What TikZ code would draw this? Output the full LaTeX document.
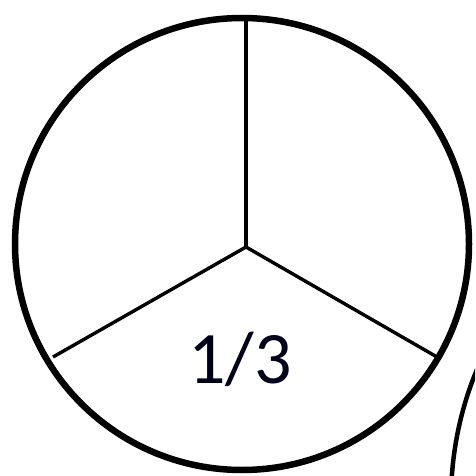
\documentclass[tikz,border=0pt]{standalone}
\usepackage{fontspec}
\setmainfont{Carlito}
\begin{document}
\begin{tikzpicture}[x=1pt,y=-1pt,
  rim/.style={line width=6.5pt},
  spoke/.style={line width=3.4pt},
  lbl/.style={font=\fontsize{74}{80}\selectfont, text=black!90!blue, inner sep=0pt}]
\useasboundingbox (0,0) rectangle (475,476);
\clip (0,0) rectangle (475,476);
\coordinate (c) at (246,247);
\coordinate (top) at (246,18);
\coordinate (ll) at (53,357);
\coordinate (lr) at (437,357);
\draw[rim] (242,244) ellipse [x radius=227, y radius=226];
\draw[spoke] (c) -- (top);
\draw[spoke] (c) -- (ll);
\draw[spoke] (c) -- (lr);
\node[lbl] (t) at (240,359) {1/3};
\draw[line width=4.5pt] (791,500) circle [radius=340];
\end{tikzpicture}
\end{document}
